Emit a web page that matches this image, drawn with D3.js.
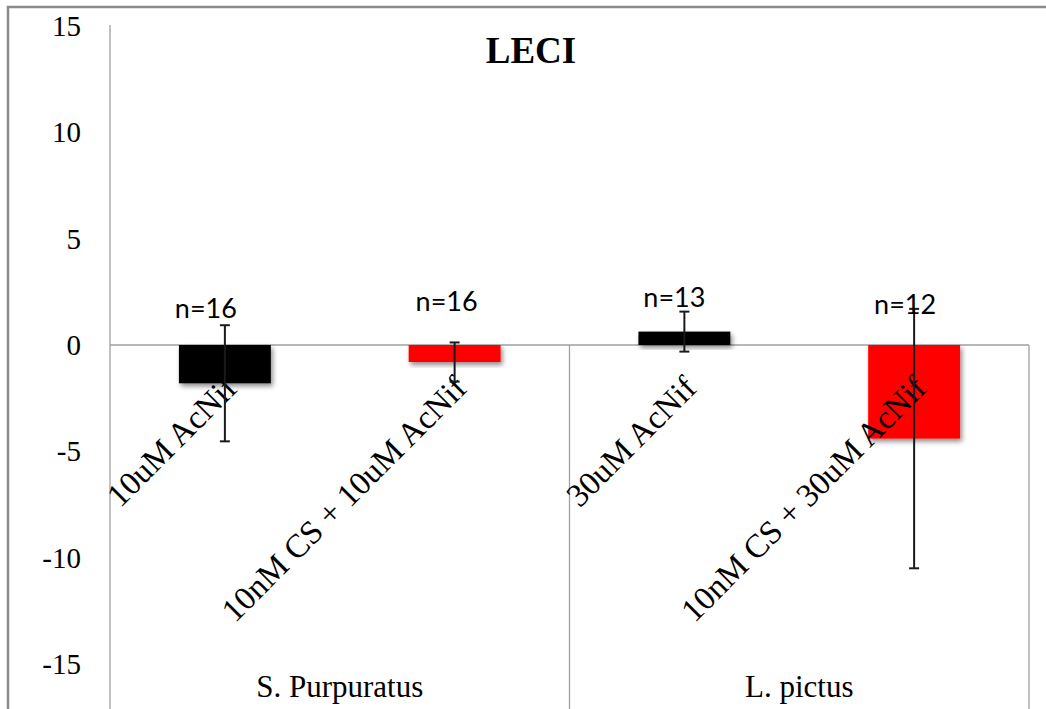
<!DOCTYPE html>
<html>
<head>
<meta charset="utf-8">
<script src="https://cdn.jsdelivr.net/npm/d3@7"></script>
<style>
  html, body { margin: 0; padding: 0; background: #fff; }
  svg { display: block; }
</style>
</head>
<body>
<svg id="chart" width="1046" height="709"></svg>
<script>
// LECI change per treatment, grouped by species
const categories = ["10uM AcNif", "10nM CS + 10uM AcNif", "30uM AcNif", "10nM CS + 30uM AcNif"];
const species = ["S. Purpuratus", "L. pictus"];
const speciesOf = [0, 0, 1, 1];
const means = [-1.8, -0.8, 0.63, -4.4];
const errors = [2.73, 0.92, 0.94, 6.1];
const nLabels = ["n=16", "n=16", "n=13", "n=12"];
const barColors = ["#000000", "#ff0000", "#000000", "#ff0000"];
const yTicks = [-15, -10, -5, 0, 5, 10, 15];

const W = 1046, H = 709;
const plot = { left: 110, right: 1029, top: 26 };
const serif = "'Liberation Serif', 'Times New Roman', serif";
// hand-placed offsets of the sample-size labels (px)
const nLabelNudge = [[-19, 5], [-8, -2], [-10, -6], [-9, 1]];

const svg = d3.select("#chart");

// soft shadow under the bars
const defs = svg.append("defs");
const f = defs.append("filter").attr("id", "shadow")
  .attr("x", "-10%").attr("y", "-10%").attr("width", "130%").attr("height", "140%");
f.append("feDropShadow").attr("dx", 2).attr("dy", 3).attr("stdDeviation", 2.5)
  .attr("flood-color", "#000").attr("flood-opacity", 0.45);

// outer chart frame (runs past the right and bottom edges)
svg.append("path")
  .attr("d", `M8,${H + 5} L8,7 L${W + 5},7`)
  .attr("fill", "none").attr("stroke", "#8a8a8a").attr("stroke-width", 2.5);

const x = d3.scaleBand().domain(d3.range(categories.length))
  .range([plot.left, plot.right]).padding(0);
const y = d3.scaleLinear().domain([-15, 15]).range([664, plot.top]);
const barW = x.bandwidth() * 0.4;
const cx = i => x(i) + x.bandwidth() / 2;

// value axis
svg.append("line")
  .attr("x1", plot.left).attr("x2", plot.left)
  .attr("y1", plot.top - 1).attr("y2", H)
  .attr("stroke", "#a0a0a0").attr("stroke-width", 1.3);

svg.append("g").selectAll("text").data(yTicks).join("text")
  .attr("x", 81).attr("y", d => y(d)).attr("dy", "0.35em")
  .attr("text-anchor", "end")
  .attr("font-family", serif)
  .attr("font-size", 29).attr("fill", "#000")
  .text(d => d);

// category axis along zero, with group dividers hanging below it
svg.append("line")
  .attr("x1", plot.left).attr("x2", plot.right)
  .attr("y1", y(0)).attr("y2", y(0))
  .attr("stroke", "#a0a0a0").attr("stroke-width", 1.3);

const groupEdges = species.map((s, g) => {
  const idx = speciesOf.map((v, i) => v === g ? i : -1).filter(i => i >= 0);
  return { name: s, x0: x(idx[0]), x1: x(idx[idx.length - 1]) + x.bandwidth() };
});
svg.append("g").selectAll("line").data(groupEdges).join("line")
  .attr("x1", d => d.x1).attr("x2", d => d.x1)
  .attr("y1", y(0)).attr("y2", H)
  .attr("stroke", "#a0a0a0").attr("stroke-width", 1.3);

svg.append("g").selectAll("text").data(groupEdges).join("text")
  .attr("x", d => (d.x0 + d.x1) / 2).attr("y", 697)
  .attr("text-anchor", "middle")
  .attr("font-family", serif)
  .attr("font-size", 31).attr("fill", "#000")
  .text(d => d.name);

// bars
svg.append("g").selectAll("rect").data(means).join("rect")
  .attr("x", (d, i) => cx(i) - barW / 2)
  .attr("width", barW)
  .attr("y", d => y(Math.max(0, d)))
  .attr("height", d => Math.abs(y(d) - y(0)))
  .attr("fill", (d, i) => barColors[i])
  .attr("filter", "url(#shadow)");

// rotated treatment labels, drawn over the bars
svg.append("g").selectAll("text").data(categories).join("text")
  .attr("transform", (d, i) => `translate(${cx(i) + 14},${y(0) + 45}) rotate(-45)`)
  .attr("text-anchor", "end")
  .attr("font-family", serif)
  .attr("font-size", 33).attr("fill", "#000")
  .text(d => d);

// error bars
const eb = svg.append("g").attr("stroke", "#1a1a1a").attr("stroke-width", 2);
means.forEach((m, i) => {
  const hi = y(m + errors[i]), lo = y(m - errors[i]), c = cx(i);
  eb.append("line").attr("x1", c).attr("x2", c).attr("y1", hi).attr("y2", lo);
  eb.append("line").attr("x1", c - 5).attr("x2", c + 5).attr("y1", hi).attr("y2", hi);
  eb.append("line").attr("x1", c - 5).attr("x2", c + 5).attr("y1", lo).attr("y2", lo);
});

// sample sizes
svg.append("g").selectAll("text").data(nLabels).join("text")
  .attr("x", (d, i) => cx(i) + nLabelNudge[i][0])
  .attr("y", (d, i) => y(1.5) + nLabelNudge[i][1])
  .attr("text-anchor", "middle")
  .attr("font-family", "Lato, 'Open Sans', sans-serif")
  .attr("font-size", 27).attr("fill", "#000")
  .text(d => d);

// title
svg.append("text")
  .attr("x", 531).attr("y", 63)
  .attr("text-anchor", "middle")
  .attr("font-family", serif)
  .attr("font-weight", "bold").attr("font-size", 37)
  .text("LECI");
</script>
</body>
</html>
